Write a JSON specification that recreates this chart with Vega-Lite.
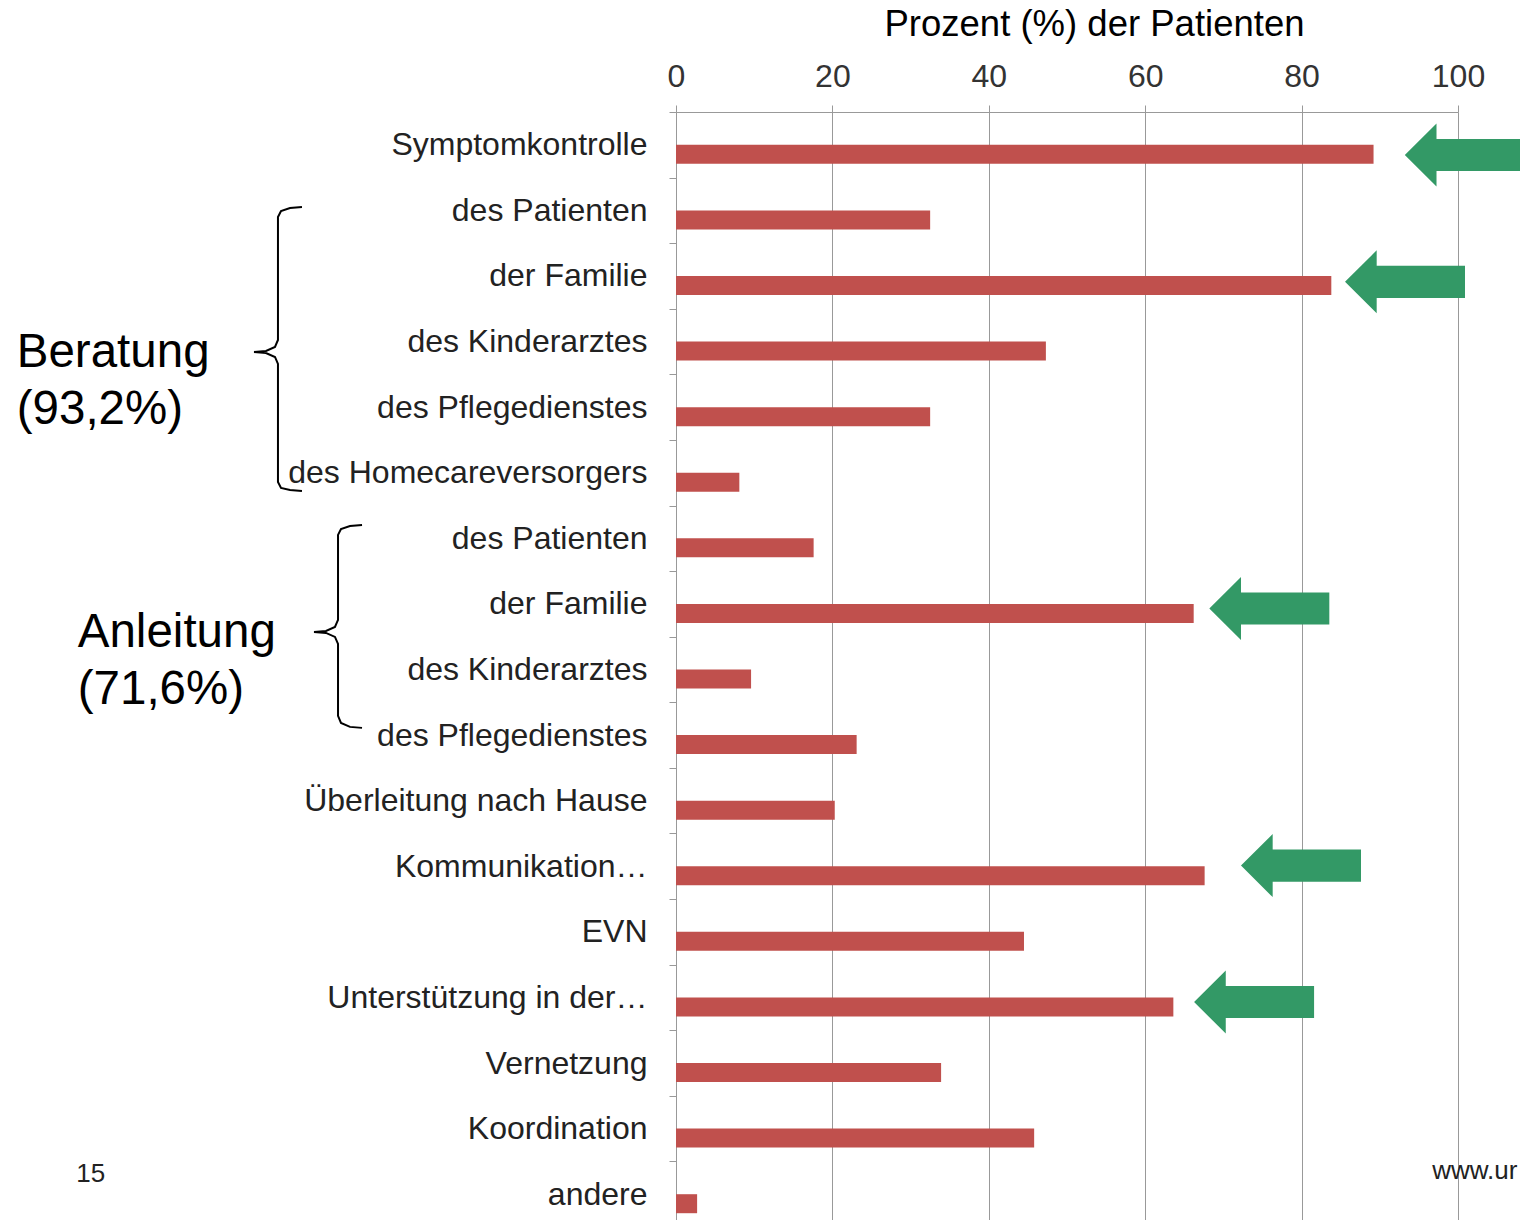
{
  "$schema": "https://vega.github.io/schema/vega-lite/v6.json",
  "autosize": {"type": "none"},
  "padding": {"left": 676, "top": 112, "right": 62, "bottom": 0},
  "width": 782,
  "height": 1115,
  "background": "white",
  "config": {"view": {"stroke": null}, "font": "Liberation Sans"},
  "datasets": {
    "balken": [
      {"Kategorie": "Symptomkontrolle", "Prozent": 89.2},
      {"Kategorie": "Beratung: des Patienten", "Prozent": 32.5},
      {"Kategorie": "Beratung: der Familie", "Prozent": 83.8},
      {"Kategorie": "Beratung: des Kinderarztes", "Prozent": 47.3},
      {"Kategorie": "Beratung: des Pflegedienstes", "Prozent": 32.5},
      {"Kategorie": "Beratung: des Homecareversorgers", "Prozent": 8.1},
      {"Kategorie": "Anleitung: des Patienten", "Prozent": 17.6},
      {"Kategorie": "Anleitung: der Familie", "Prozent": 66.2},
      {"Kategorie": "Anleitung: des Kinderarztes", "Prozent": 9.6},
      {"Kategorie": "Anleitung: des Pflegedienstes", "Prozent": 23.1},
      {"Kategorie": "Überleitung nach Hause", "Prozent": 20.3},
      {"Kategorie": "Kommunikation…", "Prozent": 67.6},
      {"Kategorie": "EVN", "Prozent": 44.5},
      {"Kategorie": "Unterstützung in der…", "Prozent": 63.6},
      {"Kategorie": "Vernetzung", "Prozent": 33.9},
      {"Kategorie": "Koordination", "Prozent": 45.8},
      {"Kategorie": "andere", "Prozent": 2.7}
    ],
    "klammern": [
      {"Klammer": "Beratung", "Punkt": 1, "Prozent": -47.83, "Zeile": 1.448},
      {"Klammer": "Beratung", "Punkt": 2, "Prozent": -49.36, "Zeile": 1.463},
      {"Klammer": "Beratung", "Punkt": 3, "Prozent": -50.51, "Zeile": 1.509},
      {"Klammer": "Beratung", "Punkt": 4, "Prozent": -50.9, "Zeile": 1.601},
      {"Klammer": "Beratung", "Punkt": 5, "Prozent": -50.9, "Zeile": 3.476},
      {"Klammer": "Beratung", "Punkt": 6, "Prozent": -51.28, "Zeile": 3.582},
      {"Klammer": "Beratung", "Punkt": 7, "Prozent": -52.43, "Zeile": 3.643},
      {"Klammer": "Beratung", "Punkt": 8, "Prozent": -53.96, "Zeile": 3.659},
      {"Klammer": "Beratung", "Punkt": 9, "Prozent": -52.43, "Zeile": 3.674},
      {"Klammer": "Beratung", "Punkt": 10, "Prozent": -51.28, "Zeile": 3.735},
      {"Klammer": "Beratung", "Punkt": 11, "Prozent": -50.9, "Zeile": 3.841},
      {"Klammer": "Beratung", "Punkt": 12, "Prozent": -50.9, "Zeile": 5.64},
      {"Klammer": "Beratung", "Punkt": 13, "Prozent": -50.51, "Zeile": 5.732},
      {"Klammer": "Beratung", "Punkt": 14, "Prozent": -49.36, "Zeile": 5.762},
      {"Klammer": "Beratung", "Punkt": 15, "Prozent": -47.83, "Zeile": 5.777},
      {"Klammer": "Anleitung", "Punkt": 1, "Prozent": -40.15, "Zeile": 6.296},
      {"Klammer": "Anleitung", "Punkt": 2, "Prozent": -41.69, "Zeile": 6.311},
      {"Klammer": "Anleitung", "Punkt": 3, "Prozent": -42.84, "Zeile": 6.357},
      {"Klammer": "Anleitung", "Punkt": 4, "Prozent": -43.22, "Zeile": 6.448},
      {"Klammer": "Anleitung", "Punkt": 5, "Prozent": -43.22, "Zeile": 7.744},
      {"Klammer": "Anleitung", "Punkt": 6, "Prozent": -43.61, "Zeile": 7.851},
      {"Klammer": "Anleitung", "Punkt": 7, "Prozent": -44.76, "Zeile": 7.912},
      {"Klammer": "Anleitung", "Punkt": 8, "Prozent": -46.29, "Zeile": 7.927},
      {"Klammer": "Anleitung", "Punkt": 9, "Prozent": -44.76, "Zeile": 7.942},
      {"Klammer": "Anleitung", "Punkt": 10, "Prozent": -43.61, "Zeile": 8.003},
      {"Klammer": "Anleitung", "Punkt": 11, "Prozent": -43.22, "Zeile": 8.11},
      {"Klammer": "Anleitung", "Punkt": 12, "Prozent": -43.22, "Zeile": 9.207},
      {"Klammer": "Anleitung", "Punkt": 13, "Prozent": -42.84, "Zeile": 9.314},
      {"Klammer": "Anleitung", "Punkt": 14, "Prozent": -41.69, "Zeile": 9.375},
      {"Klammer": "Anleitung", "Punkt": 15, "Prozent": -40.15, "Zeile": 9.39}
    ],
    "gruppen": [
      {"Text": "Beratung", "Prozent": -84.3, "Zeile": 3.89},
      {"Text": "(93,2%)", "Prozent": -84.3, "Zeile": 4.75},
      {"Text": "Anleitung", "Prozent": -76.5, "Zeile": 8.16},
      {"Text": "(71,6%)", "Prozent": -76.5, "Zeile": 9.02}
    ],
    "pfeile": [
      {"Prozent": 93.2, "Zeile": 0.655},
      {"Prozent": 85.55, "Zeile": 2.59},
      {"Prozent": 68.2, "Zeile": 7.57},
      {"Prozent": 72.25, "Zeile": 11.49},
      {"Prozent": 66.25, "Zeile": 13.57}
    ],
    "fusszeile": [
      {"Text": "15", "Prozent": -76.7, "Zeile": 16.31},
      {"Text": "www.ur", "Prozent": 96.7, "Zeile": 16.27}
    ]
  },
  "encoding": {
    "x": {
      "field": "Prozent",
      "type": "quantitative",
      "scale": {"domain": [0, 100], "nice": false, "zero": true},
      "axis": {
        "orient": "top",
        "values": [0, 20, 40, 60, 80, 100],
        "grid": true,
        "gridColor": "#999999",
        "gridWidth": 1,
        "tickSize": 7,
        "tickColor": "#999999",
        "domainColor": "#999999",
        "labelFontSize": 32,
        "labelColor": "#333333",
        "labelPadding": 19,
        "labelBaseline": "alphabetic",
        "labelFlush": false,
        "labelOverlap": false,
        "title": "Prozent (%) der Patienten",
        "titleFontSize": 36.5,
        "titleFontWeight": "normal",
        "titleColor": "#000000",
        "titleX": 418,
        "titleY": -77,
        "titleAlign": "center",
        "titleBaseline": "alphabetic"
      }
    }
  },
  "layer": [
    {
      "data": {"name": "balken"},
      "mark": {"type": "bar", "color": "#C0504D", "size": 19, "yOffset": 9.5},
      "encoding": {
        "y": {
          "field": "Kategorie",
          "type": "nominal",
          "sort": null,
          "scale": {"paddingInner": 0, "paddingOuter": 0},
          "axis": {
            "title": null,
            "tickBand": "extent",
            "tickSize": 7,
            "tickColor": "#999999",
            "domainColor": "#999999",
            "labelFontSize": 32,
            "labelColor": "#222222",
            "labelPadding": 22,
            "labelLimit": 600,
            "labelExpr": "isValid(datum.value) ? peek(split(datum.value, ': ')) : ''",
            "grid": false
          }
        }
      }
    },
    {
      "data": {"name": "klammern"},
      "mark": {"type": "line", "color": "#000000", "strokeWidth": 2},
      "encoding": {
        "y": {"field": "Zeile", "type": "quantitative", "scale": {"domain": [0, 17], "reverse": true, "nice": false, "zero": false}, "axis": null},
        "detail": {"field": "Klammer"},
        "order": {"field": "Punkt"}
      }
    },
    {
      "data": {"name": "gruppen"},
      "mark": {"type": "text", "align": "left", "baseline": "alphabetic", "fontSize": 47.5, "color": "#000000"},
      "encoding": {
        "y": {"field": "Zeile", "type": "quantitative", "scale": {"domain": [0, 17], "reverse": true, "nice": false, "zero": false}, "axis": null},
        "text": {"field": "Text"}
      }
    },
    {
      "data": {"name": "pfeile"},
      "mark": {"type": "point", "shape": "M0,0L0.528,-0.525L0.528,-0.267L2,-0.267L2,0.267L0.528,0.267L0.528,0.525Z", "filled": true, "size": 14400, "color": "#339966", "opacity": 1},
      "encoding": {
        "y": {"field": "Zeile", "type": "quantitative", "scale": {"domain": [0, 17], "reverse": true, "nice": false, "zero": false}, "axis": null}
      }
    },
    {
      "data": {"name": "fusszeile"},
      "mark": {"type": "text", "align": "left", "baseline": "alphabetic", "fontSize": 26, "color": "#222222"},
      "encoding": {
        "y": {"field": "Zeile", "type": "quantitative", "scale": {"domain": [0, 17], "reverse": true, "nice": false, "zero": false}, "axis": null},
        "text": {"field": "Text"}
      }
    }
  ],
  "resolve": {"scale": {"y": "independent"}, "axis": {"y": "independent"}}
}
